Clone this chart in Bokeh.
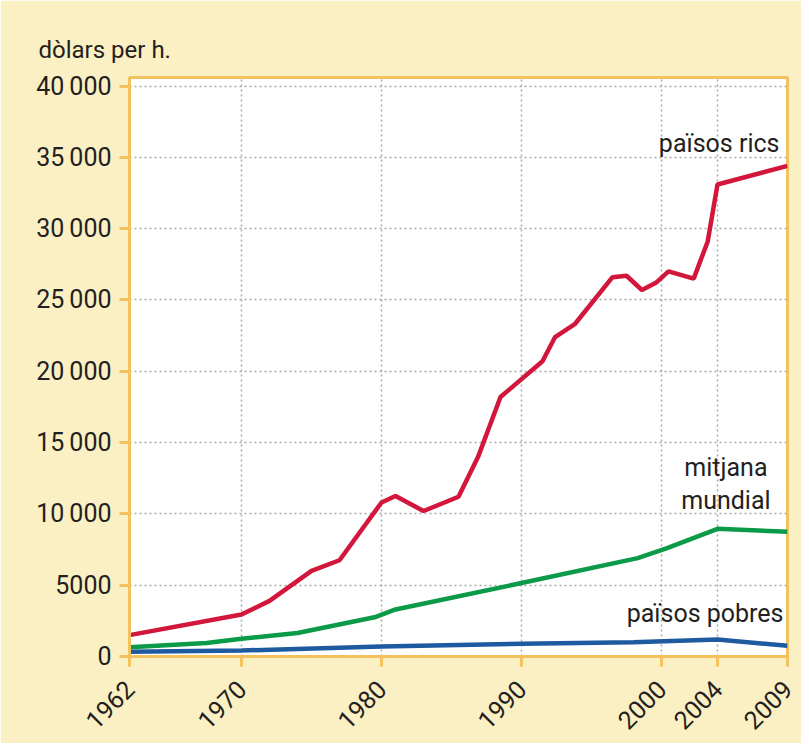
from math import pi
from bokeh.plotting import figure
from bokeh.models import FixedTicker, Label, Range1d
from bokeh.embed import file_html
from bokeh.resources import INLINE

# ---- data ----
x_ticks = [1962, 1970, 1980, 1990, 2000, 2004, 2009]
y_ticks = [0, 5000, 10000, 15000, 20000, 25000, 30000, 35000, 40000]
y_tick_labels = ["0", "5000", "10\u2009000", "15\u2009000", "20\u2009000", "25\u2009000",
                 "30\u2009000", "35\u2009000", "40\u2009000"]

rics_years = [1962, 1970, 1972, 1975, 1977, 1980, 1981, 1983, 1985.5, 1986.9, 1988.5,
              1991.5, 1992.4, 1993.8, 1996.5, 1997.5, 1998.6, 1999.6, 2000.5, 2002.3,
              2003.3, 2004, 2009]
rics_vals = [1500, 2950, 3900, 6000, 6750, 10800, 11250, 10200, 11200, 14000, 18200,
             20700, 22400, 23300, 26600, 26700, 25700, 26200, 27000, 26500,
             29100, 33100, 34400]

mundial_years = [1962, 1967.5, 1970, 1974, 1979.5, 1981, 1990, 1998.3, 2000.4, 2004, 2009]
mundial_vals = [650, 950, 1250, 1650, 2750, 3300, 5150, 6900, 7600, 8950, 8750]

pobres_years = [1962, 1970, 1980, 1990, 1998, 2004, 2009]
pobres_vals = [330, 420, 700, 900, 1000, 1200, 750]

# ---- styles ----
FONT = "Roboto"
TXT = "#231F20"
ORANGE = "#F3C25E"
BG = "#FBEFC4"
RED = "#D3163B"
GREEN = "#0B9A47"
BLUE = "#1D5A9F"

p = figure(width=801, height=743, output_backend="svg", toolbar_location=None,
           x_range=Range1d(1962, 2009), y_range=Range1d(0, 40600),
           min_border_left=129, min_border_right=14, min_border_top=77,
           min_border_bottom=87)

p.background_fill_color = "white"
p.border_fill_color = BG
p.outline_line_color = ORANGE
p.outline_line_width = 3

p.title.text = "dòlars per h."
p.title.text_font = FONT
p.title.text_font_size = "24px"
p.title.text_font_style = "normal"
p.title.text_color = TXT
p.title.align = "left"
p.title.offset = -91
p.title.standoff = 28

for ax in (p.xaxis[0], p.yaxis[0]):
    ax.axis_line_color = ORANGE
    ax.axis_line_width = 3
    ax.major_tick_line_color = ORANGE
    ax.major_tick_line_width = 3
    ax.major_tick_in = 0
    ax.major_tick_out = 10
    ax.minor_tick_line_color = None
    ax.major_label_text_font = FONT
    ax.major_label_text_font_size = "25px"
    ax.major_label_text_color = TXT

p.xaxis.ticker = FixedTicker(ticks=x_ticks)
p.xaxis.major_label_overrides = {t: str(t) for t in x_ticks}
p.xaxis.major_label_orientation = pi / 4
p.xaxis.major_label_standoff = 18

p.yaxis.ticker = FixedTicker(ticks=y_ticks)
p.yaxis.major_label_overrides = dict(zip(y_ticks, y_tick_labels))
p.yaxis.major_label_standoff = 8

for g in (p.xgrid[0], p.ygrid[0]):
    g.grid_line_color = "#A8A8A8"
    g.grid_line_dash = "2 3"
    g.grid_line_width = 1.5

p.line(pobres_years, pobres_vals, line_color=BLUE, line_width=4.5)
p.line(mundial_years, mundial_vals, line_color=GREEN, line_width=4.5)
p.line(rics_years, rics_vals, line_color=RED, line_width=4.5)

lab_kw = dict(text_font=FONT, text_font_size="25px", text_color=TXT)
p.add_layout(Label(x=2009, y=36000, text="països rics", text_align="right",
                   text_baseline="middle", x_offset=-8, **lab_kw))
p.add_layout(Label(x=2004.6, y=13260, text="mitjana", text_align="center",
                   text_baseline="middle", **lab_kw))
p.add_layout(Label(x=2004.6, y=10950, text="mundial", text_align="center",
                   text_baseline="middle", **lab_kw))
p.add_layout(Label(x=2009, y=3020, text="països pobres", text_align="right",
                   text_baseline="middle", x_offset=-4, **lab_kw))

open("out.html", "w").write(file_html(p, INLINE))
